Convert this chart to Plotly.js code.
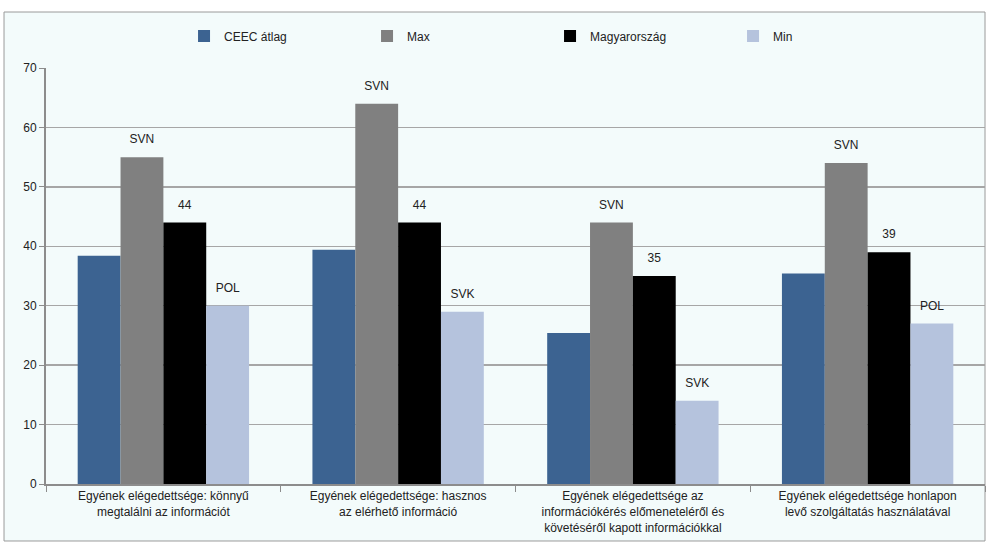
<!DOCTYPE html>
<html>
<head>
<meta charset="utf-8">
<script src="https://cdn.plot.ly/plotly-3.0.1.min.js"></script>
<style>html,body{margin:0;padding:0;background:#fff;}#chart{width:990px;height:545px;}</style>
</head>
<body>
<div id="chart"></div>
<script>
const categories = [
  "Egyének elégedettsége: könnyű<br>megtalálni az információt",
  "Egyének elégedettsége: hasznos<br>az elérhető információ",
  "Egyének elégedettsége az<br>információkérés előmeneteléről és<br>követéséről kapott információkkal",
  "Egyének elégedettsége honlapon<br>levő szolgáltatás használatával"
];
const seriesNames = ["CEEC átlag", "Max", "Magyarország", "Min"];
const ceec = [38.4, 39.4, 25.4, 35.4];
const maxVals = [55, 64, 44, 54];
const huVals = [44, 44, 35, 39];
const minVals = [30, 29, 14, 27];
const maxLabels = ["SVN", "SVN", "SVN", "SVN"];
const minLabels = ["POL", "SVK", "SVK", "POL"];
const yTicks = [0, 10, 20, 30, 40, 50, 60, 70];

const colors = ["#3C6391", "#808080", "#000000", "#B5C3DD"];
const font = {family: "Liberation Sans, Arial, sans-serif", size: 12, color: "#222"};

const series = [ceec, maxVals, huVals, minVals];
const labels = [null, maxLabels, huVals, minLabels];

const data = [];
series.forEach((y, i) => {
  data.push({type: "bar", name: seriesNames[i], x: categories, y: y,
    offsetgroup: "g" + i, marker: {color: colors[i]}, hoverinfo: "skip"});
});
series.forEach((y, i) => {
  data.push({type: "scatter", mode: labels[i] ? "markers+text" : "markers", x: categories, y: y,
    offsetgroup: "g" + i, showlegend: false, hoverinfo: "skip", cliponaxis: false,
    marker: {size: 16, opacity: 0, color: colors[i]},
    text: labels[i] ? labels[i].map(String) : undefined,
    textposition: "top center",
    textfont: {family: font.family, size: 12, color: "#222"}});
});

const layout = {
  width: 990, height: 545,
  margin: {l: 46, r: 5, t: 68, b: 61, autoexpand: false},
  paper_bgcolor: "#ffffff",
  plot_bgcolor: "rgba(0,0,0,0)",
  font: font,
  barmode: "group",
  bargap: 0.27,
  bargroupgap: 0,
  scattermode: "group",
  scattergap: 0.27,
  showlegend: true,
  legend: {orientation: "h", x: 0.147, xanchor: "left", y: 1.077, yanchor: "middle",
    entrywidth: 138, entrywidthmode: "pixels", font: font, bgcolor: "rgba(0,0,0,0)",
    itemwidth: 30, traceorder: "normal"},
  xaxis: {type: "category", showgrid: false, showline: true, linecolor: "#8c8c8c", linewidth: 2,
    ticks: "outside", tickson: "boundaries", ticklen: 6, tickcolor: "#8c8c8c", tickwidth: 1,
    tickfont: font, tickangle: 0, fixedrange: true},
  yaxis: {range: [0, 70], tickvals: yTicks, showgrid: true, gridcolor: "#a6a6a6", gridwidth: 1.5,
    showline: true, linecolor: "#8c8c8c", linewidth: 2, ticks: "outside", ticklen: 5,
    tickcolor: "#8c8c8c", tickfont: font, zeroline: false, fixedrange: true},
  shapes: [{type: "rect", xref: "paper", yref: "paper", x0: -0.0447, x1: 1.0, y0: -0.137, y1: 1.1346,
    fillcolor: "#F3FBFB", line: {color: "#9a9a9a", width: 1}, layer: "below"}]
};

Plotly.newPlot("chart", data, layout, {displayModeBar: false, staticPlot: true});
</script>
</body>
</html>
